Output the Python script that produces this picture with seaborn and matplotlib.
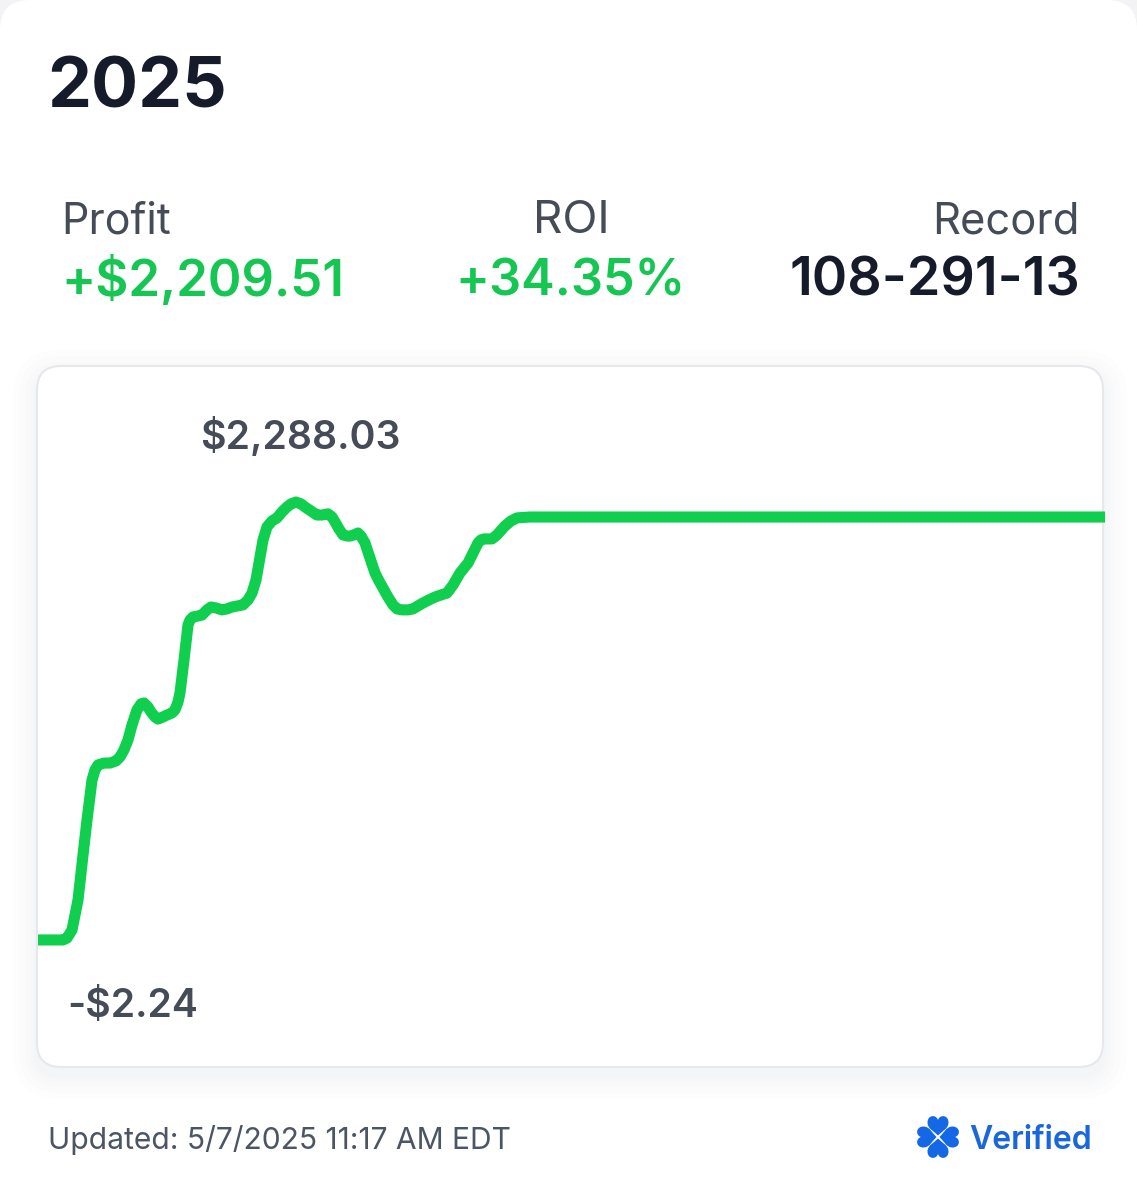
import matplotlib
matplotlib.use("Agg")
import matplotlib.pyplot as plt
from matplotlib.patches import FancyBboxPatch, PathPatch
from matplotlib.path import Path
from matplotlib.transforms import Affine2D
import seaborn as sns
import pandas as pd

# ---- chart values ----
progress = [0, 25, 29, 34, 40, 45, 49, 54, 57, 60, 66, 72, 78, 82, 86, 90, 94, 99, 103, 106, 110,
            113, 117, 120, 125, 129, 134, 137, 140, 142, 146, 150, 152, 155, 160, 164, 169, 173,
            178, 184, 189, 194, 200, 205, 210, 214, 218, 222, 225, 229, 234, 239, 244, 249, 253,
            258, 263, 267, 273, 279, 284, 290, 294, 297, 301, 305, 309, 312, 316, 320, 323, 327,
            332, 337, 341, 345, 350, 355, 359, 364, 370, 375, 380, 385, 391, 397, 403, 409, 415,
            422, 430, 435, 440, 443, 446, 454, 459, 467, 473, 479, 492, 1067]
profit = [-2, -2, 8, 50, 207, 442, 625, 834, 887, 913, 923, 923, 934, 955, 992, 1044, 1122, 1201,
          1232, 1237, 1216, 1190, 1164, 1153, 1164, 1174, 1185, 1201, 1242, 1290, 1462, 1645, 1671,
          1687, 1692, 1697, 1724, 1739, 1734, 1724, 1729, 1739, 1745, 1750, 1776, 1812, 1880, 2000,
          2089, 2158, 2189, 2205, 2236, 2262, 2278, 2288, 2278, 2262, 2241, 2220, 2220, 2226, 2210,
          2184, 2147, 2116, 2110, 2110, 2116, 2126, 2110, 2074, 1995, 1917, 1875, 1838, 1791, 1750,
          1729, 1724, 1724, 1729, 1745, 1760, 1776, 1791, 1802, 1812, 1854, 1917, 1969, 2021, 2074,
          2090, 2095, 2095, 2116, 2163, 2189, 2205, 2209.51, 2209.51]

title = "2025"
stat_labels = ["Profit", "ROI", "Record"]
stat_values = ["+$2,209.51", "+34.35%", "108-291-13"]
high_label = "$2,288.03"
low_label = "-$2.24"
updated = "Updated: 5/7/2025 11:17 AM EDT"
verified = "Verified"

W, H = 1137, 1203
GREEN_LINE = "#10cf4f"
GREEN_TEXT = "#15c653"
DARK = "#151b2b"
GREY = "#454c57"
BLUE = "#1a67dc"

sns.set_theme(style="white")
plt.rcParams["font.family"] = ["Inter", "Liberation Sans", "DejaVu Sans"]

fig = plt.figure(figsize=(W / 100, H / 100), dpi=100, facecolor="#f3f3f5")

ov = fig.add_axes([0, 0, 1, 1])
ov.set_xlim(0, W)
ov.set_ylim(H, 0)
ov.axis("off")

# outer panel
ov.add_patch(FancyBboxPatch((0, 0), W, H + 200, boxstyle="round,pad=0,rounding_size=30",
                            fc="#ffffff", ec="none", zorder=0))
# soft card shadow
for grow, a in [(24, 0.10), (18, 0.14), (12, 0.18), (7, 0.25), (3, 0.35)]:
    ov.add_patch(FancyBboxPatch((37 - grow, 366 - grow + 8), 1066 + 2 * grow, 701 + 2 * grow,
                                boxstyle=f"round,pad=0,rounding_size={24 + grow}",
                                fc="#f1f2f6", ec="none", alpha=a, zorder=1))
# card
ov.add_patch(FancyBboxPatch((37, 366), 1066, 701, boxstyle="round,pad=0,rounding_size=24",
                            fc="#ffffff", ec="#e6e8ec", lw=1.5, zorder=2))

# header text
ov.text(47, 108, title, fontsize=50.2, fontweight="bold", color=DARK, va="baseline", ha="left", zorder=5)
for x, ha, lab, lab_size, val, val_size, col in [
        (61, "left", stat_labels[0], 31.0, stat_values[0], 36.7, GREEN_TEXT),
        (571, "center", stat_labels[1], 33.0, stat_values[1], 36.3, GREEN_TEXT),
        (1080, "right", stat_labels[2], 31.3, stat_values[2], 38.7, DARK)]:
    ov.text(x, 233, lab, fontsize=lab_size, color=GREY, va="baseline", ha=ha, zorder=5)
    ov.text(x, 296, val, fontsize=val_size, fontweight="semibold", color=col, va="baseline", ha=ha, zorder=5)

ov.text(300, 449, high_label, fontsize=28.3, fontweight="semibold", color=GREY, va="baseline", ha="center", zorder=5)
ov.text(67, 1017, low_label, fontsize=28.2, fontweight="semibold", color=GREY, va="baseline", ha="left", zorder=5)
ov.text(48, 1149, updated, fontsize=21.6, color="#4b5563", va="baseline", ha="left", zorder=5)
ov.text(969, 1149, verified, fontsize=23, fontweight="semibold", color=BLUE, va="baseline", ha="left", zorder=5)

# clover badge: four hearts pointing at the centre
heart_v = [(0, -1.5), (-3, -5), (-10.5, -8), (-10.5, -14.5), (-10.5, -22), (-2, -23), (0, -17),
           (2, -23), (10.5, -22), (10.5, -14.5), (10.5, -8), (3, -5), (0, -1.5)]
heart_c = [Path.MOVETO] + [Path.CURVE4] * 12
heart = Path(heart_v, heart_c)
for angle in (0, 90, 180, 270):
    tr = Affine2D().rotate_deg(angle).translate(938, 1137)
    ov.add_patch(PathPatch(heart.transformed(tr), fc="#1468e6", ec="none", zorder=5))

# chart axes spanning the card
SCALE = 5.229
ax = fig.add_axes([38 / W, 1 - 1067 / H, 1067 / W, 701 / H], facecolor="none")
df = pd.DataFrame({"progress": progress, "profit": profit})
sns.lineplot(data=df, x="progress", y="profit", ax=ax, color=GREEN_LINE, linewidth=8.0,
             solid_joinstyle="round", solid_capstyle="butt", errorbar=None, estimator=None, sort=False)
ax.set_xlim(0, 1067)
ax.set_ylim(-2.24 - (1067 - 940) * SCALE, -2.24 + (940 - 366) * SCALE)
ax.axis("off")
for line in ax.get_lines():
    line.set_clip_on(False)
    line.set_zorder(4)

fig.savefig("out.png", dpi=100, facecolor=fig.get_facecolor())
